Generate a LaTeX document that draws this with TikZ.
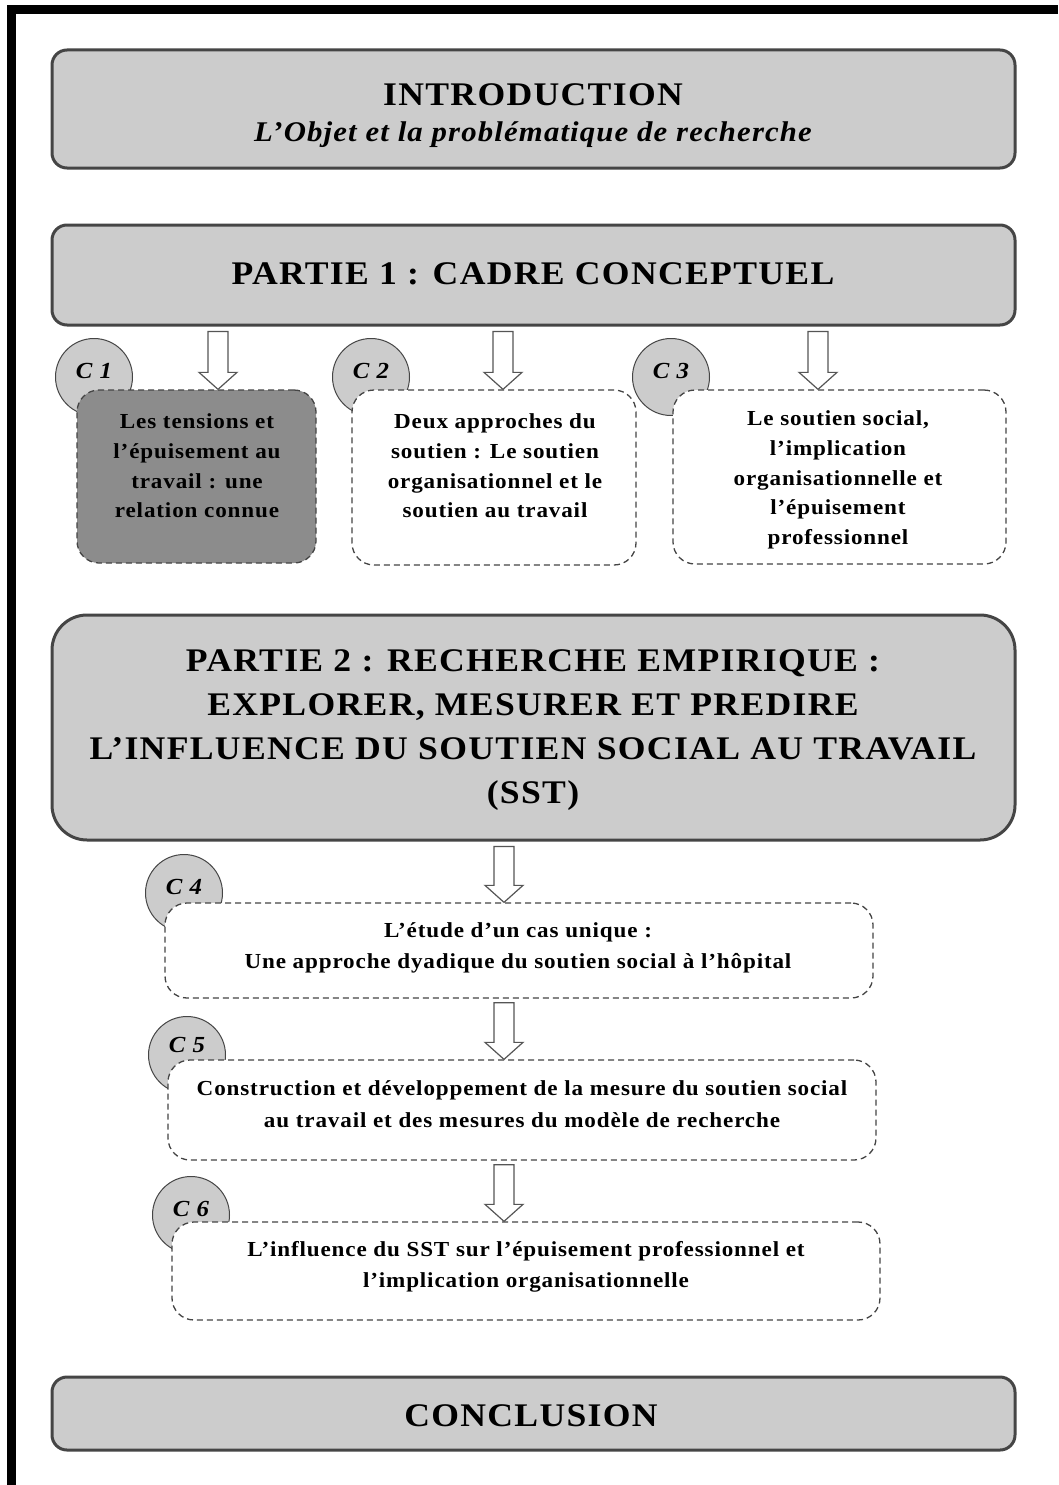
\documentclass[tikz,border=0pt]{standalone}
\usepackage{fontspec}
\setmainfont{Liberation Serif}[FakeStretch=1.08,LetterSpace=4]
\usetikzlibrary{calc}
\definecolor{boxgray}{HTML}{CCCCCC}
\definecolor{edgegray}{HTML}{454545}
\definecolor{darkfill}{HTML}{8C8C8C}
\definecolor{arrowgray}{HTML}{555555}
\newcommand\blockarrow[2]{%
  \draw[blk] ($(#1)+(-10,0)$) -- ($(#2)+(-10,-17)$) -- ($(#2)+(-19,-17)$) -- (#2)
    -- ($(#2)+(19,-17)$) -- ($(#2)+(10,-17)$) -- ($(#1)+(10,0)$) -- cycle;}
\tikzset{
  bigbox/.style={draw=edgegray, line width=3pt, fill=boxgray, rounded corners=15pt,
    minimum width=963pt, inner sep=0pt},
  cbox/.style={draw=edgegray, line width=1.3pt, dash pattern=on 6pt off 4pt,
    fill=white, rounded corners=22pt, inner sep=0pt},
  badge/.style={circle, draw=edgegray, line width=1pt, fill=boxgray,
    minimum size=77pt, inner sep=0pt},
  blk/.style={draw=arrowgray, line width=1.2pt, fill=white},
  title/.style={font=\bfseries\fontsize{33}{44}\selectfont, align=center, inner sep=0pt},
  subtitle/.style={font=\bfseries\itshape\fontsize{28.5}{34}\selectfont, align=center, inner sep=0pt},
  txtA/.style={font=\bfseries\fontsize{21.4}{29.7}\selectfont, align=center, inner sep=0pt},
  txtB/.style={font=\bfseries\fontsize{21.4}{31.5}\selectfont, align=center, inner sep=0pt},
  lbl/.style={font=\bfseries\itshape\fontsize{23}{26}\selectfont, inner sep=0pt},
}
\begin{document}
\begin{tikzpicture}[x=1pt,y=-1pt]
\useasboundingbox (0,0) rectangle (1058,1485);
\fill[white] (0,0) rectangle (1058,1485);
% frame
\fill[black] (7,5) rectangle (1058,14);
\fill[black] (7,5) rectangle (16,1485);

% main boxes
\node[bigbox, minimum height=118pt] (intro) at (533.5,109) {};
\node[title] (introT) at (533,95) {INTRODUCTION};
\node[subtitle] (introS) at (533,135) {L’Objet et la problématique de recherche};

\node[bigbox, minimum height=100pt] (p1) at (533.5,275) {};
\node[title] (p1T) at (533,274) {PARTIE 1 : CADRE CONCEPTUEL};

\node[bigbox, rounded corners=35pt, minimum height=225pt] (p2) at (533.5,727.5) {};
\node[title] (p2T) at (533,730) {PARTIE 2 : RECHERCHE EMPIRIQUE :\\EXPLORER, MESURER ET PREDIRE\\L’INFLUENCE DU SOUTIEN SOCIAL AU TRAVAIL\\(SST)};

\node[bigbox, minimum height=73pt] (concl) at (533.5,1413.5) {};
\node[title] (conclT) at (531,1416) {CONCLUSION};

% badges (behind boxes)
\node[badge] (k1) at (94,377) {};
\node[badge] (k2) at (371,377) {};
\node[badge] (k3) at (671,377) {};
\node[badge] (k4) at (184,893) {};
\node[badge] (k5) at (187,1055) {};
\node[badge] (k6) at (191,1215) {};

% chapter boxes
\node[cbox, fill=darkfill, minimum width=239pt, minimum height=173pt] (c1) at (196.5,476.5) {};
\node[cbox, minimum width=284pt, minimum height=175pt] (c2) at (494,477.5) {};
\node[cbox, minimum width=333pt, minimum height=174pt] (c3) at (839.5,477) {};
\node[cbox, minimum width=708pt, minimum height=95pt] (c4) at (519,950.5) {};
\node[cbox, minimum width=708pt, minimum height=100pt] (c5) at (522,1110) {};
\node[cbox, minimum width=708pt, minimum height=98pt] (c6) at (526,1271) {};

% badge labels
\node[lbl] (l1) at ($(k1)+(0,-6)$) {C 1};
\node[lbl] (l2) at ($(k2)+(0,-6)$) {C 2};
\node[lbl] (l3) at ($(k3)+(0,-6)$) {C 3};
\node[lbl] (l4) at ($(k4)+(0,-6)$) {C 4};
\node[lbl] (l5) at ($(k5)+(0,-10)$) {C 5};
\node[lbl] (l6) at ($(k6)+(0,-6)$) {C 6};

% box texts
\node[txtA] (t1) at (197,466) {Les tensions et\\l’épuisement au\\travail : une\\relation connue};
\node[txtA] (t2) at (495,466) {Deux approches du\\soutien : Le soutien\\organisationnel et le\\soutien au travail};
\node[txtA] (t3) at (838,480) {Le soutien social,\\l’implication\\organisationnelle et\\l’épuisement\\professionnel};
\node[txtB] (t4) at (518,948) {L’étude d’un cas unique :\\Une approche dyadique du soutien social à l’hôpital};
\node[txtB] (t5) at (522,1104) {Construction et développement de la mesure du soutien social\\au travail et des mesures du modèle de recherche};
\node[txtB] (t6) at (526,1267) {L’influence du SST sur l’épuisement professionnel et\\l’implication organisationnelle};

% arrows
\coordinate (xA) at (218,0);
\coordinate (xB) at (503,0);
\coordinate (xC) at (818,0);
\coordinate (xD) at (504,0);
\coordinate (a1s) at ($(xA |- p1.south)+(0,5)$);
\coordinate (a1e) at (xA |- c1.north);
\coordinate (a2s) at ($(xB |- p1.south)+(0,5)$);
\coordinate (a2e) at (xB |- c2.north);
\coordinate (a3s) at ($(xC |- p1.south)+(0,5)$);
\coordinate (a3e) at (xC |- c3.north);
\coordinate (a4s) at ($(xD |- p2.south)+(0,5)$);
\coordinate (a4e) at (xD |- c4.north);
\coordinate (a5s) at ($(xD |- c4.south)+(0,4)$);
\coordinate (a5e) at (xD |- c5.north);
\coordinate (a6s) at ($(xD |- c5.south)+(0,4)$);
\coordinate (a6e) at (xD |- c6.north);
\blockarrow{a1s}{a1e}
\blockarrow{a2s}{a2e}
\blockarrow{a3s}{a3e}
\blockarrow{a4s}{a4e}
\blockarrow{a5s}{a5e}
\blockarrow{a6s}{a6e}
\end{tikzpicture}
\end{document}
